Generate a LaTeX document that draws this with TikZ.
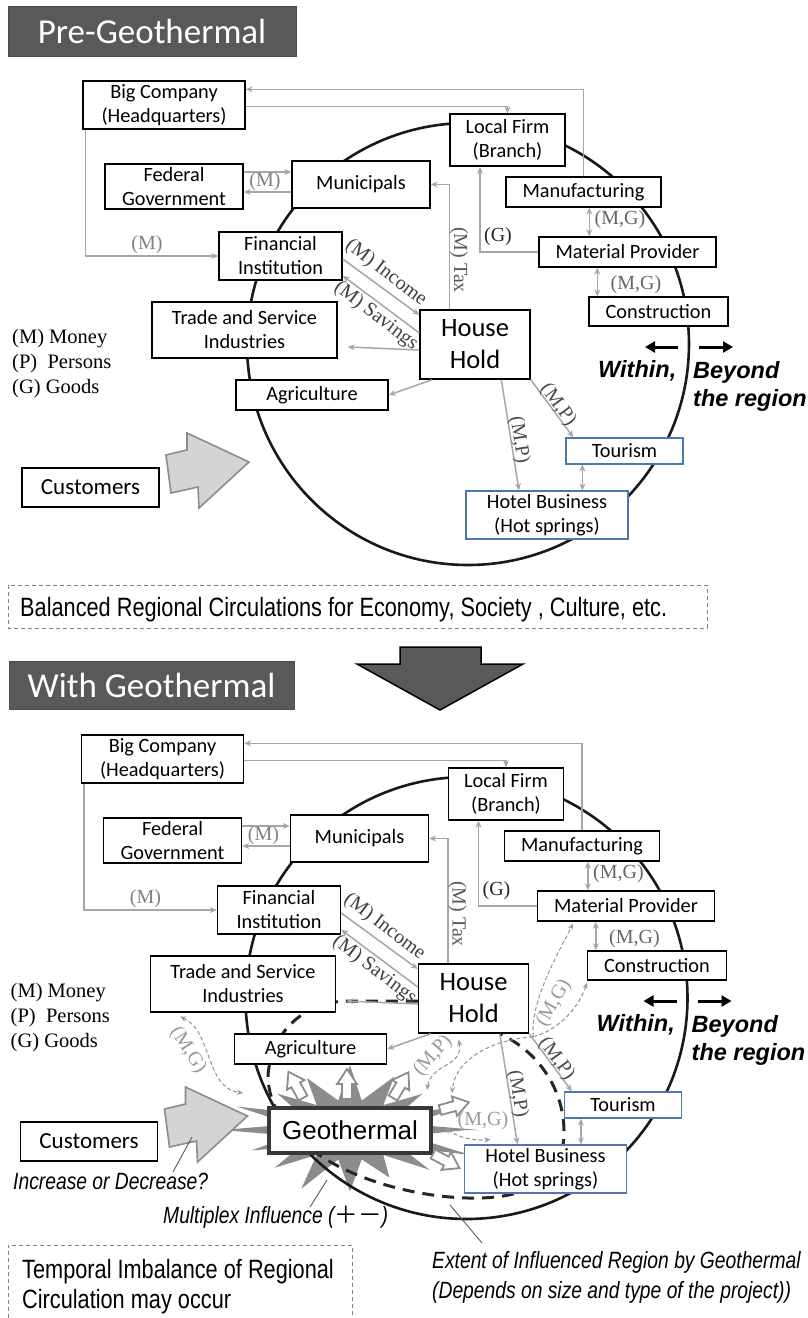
\documentclass[tikz,border=0pt]{standalone}
\usepackage{fontspec}
\usetikzlibrary{arrows.meta}
\newfontfamily\calfont{Carlito}
\newfontfamily\timesfont{Liberation Serif}
\newfontfamily\arialfont{Liberation Sans}
\newfontfamily\narrowfont{Liberation Sans}[FakeStretch=0.82]
\newfontfamily\cjkfont{Noto Sans CJK JP}
\definecolor{lgray}{HTML}{A6A6A6}
\definecolor{titlegray}{HTML}{595959}
\definecolor{boxblue}{HTML}{4A78B0}
\pgfdeclarelayer{bgstar}
\pgfdeclarelayer{bgcircle}
\pgfdeclarelayer{bgdash}
\pgfsetlayers{bgstar,bgcircle,bgdash,main}
\tikzset{
  box/.style={draw=black, line width=1.4pt, fill=white, inner sep=0pt, align=center, font=\calfont\fontsize{20.3}{24}\selectfont},
  bbox/.style={box, draw=boxblue, line width=1.2pt},
  garrow/.style={draw=lgray, line width=1.5pt, -{Stealth[length=7pt,width=6pt]}},
  gdarrow/.style={draw=lgray, line width=1.5pt, {Stealth[length=7pt,width=6pt]}-{Stealth[length=7pt,width=6pt]}},
  lab/.style={font=\timesfont\fontsize{20}{22}\selectfont, inner sep=0pt},
  legtext/.style={anchor=base west, inner sep=0pt, font=\timesfont\fontsize{20.5}{25}\selectfont},
  bigit/.style={anchor=base west, inner sep=0pt, font=\arialfont\bfseries\itshape\fontsize{23.5}{28}\selectfont},
  blackarrow/.style={line width=3pt, -{Triangle[length=10pt,width=11pt]}},
  narrowtext/.style={anchor=base west, inner sep=0pt, font=\narrowfont\fontsize{26.5}{30}\selectfont},
  narrowit/.style={anchor=base west, inner sep=0pt, font=\narrowfont\itshape\fontsize{23.5}{28}\selectfont},
  dbox/.style={draw=black!50, line width=1pt, dash pattern=on 4pt off 3pt},
  titlebox/.style={fill=titlegray, draw=black!70, line width=1pt, inner sep=0pt, text=white, font=\calfont\fontsize{35}{40}\selectfont},
  harrow/.style={fill=white, draw=black!45, line width=1.8pt, line join=miter},
  tdash/.style={draw=black!40, line width=1.1pt, dash pattern=on 4pt off 2.5pt},
  tips/.style={{Stealth[length=6pt,width=5pt]}-{Stealth[length=6pt,width=5pt]}},
  tip/.style={-{Stealth[length=6pt,width=5pt]}},
  pointer/.style={draw=black!65, line width=0.9pt},
}
\newcommand\hollowarrow[3]{\filldraw[harrow, shift={(#1,#2)}, rotate=#3] (0,-5) -- (15,-5) -- (15,-10) -- (30,0) -- (15,10) -- (15,5) -- (0,5) -- cycle;}
\newcommand\regiondiagram{%
\begin{pgfonlayer}{bgcircle}
\draw[line width=2.6pt, black!90] (468,344) circle[radius=221];
\end{pgfonlayer}
\node[box, minimum width=162, minimum height=48] (BigCo) at (164,105) {Big Company\\(Headquarters)};
\node[box, minimum width=138, minimum height=45] (Fed) at (174,186.5) {Federal\\Government};
\node[box, minimum width=138, minimum height=47] (Mun) at (361,184.5) {Municipals};
\node[box, minimum width=123, minimum height=48] (Fin) at (280.5,256) {Financial\\Institution};
\node[box, minimum width=185, minimum height=56] (Trade) at (244.5,330) {Trade and Service\\Industries};
\node[box, minimum width=152, minimum height=30] (Agri) at (312,395) {Agriculture};
\node[box, minimum width=137, minimum height=39, font=\calfont\fontsize{23}{26}\selectfont] (Cust) at (90.5,487.5) {Customers};
\node[box, minimum width=110, minimum height=69, font=\calfont\fontsize{26.5}{32}\selectfont] (HH) at (475,344.5) {House\\Hold};
\node[box, minimum width=115, minimum height=52] (LF) at (507.5,140) {Local Firm\\(Branch)};
\node[box, minimum width=155, minimum height=30] (Manu) at (583.5,192) {Manufacturing};
\node[box, minimum width=177, minimum height=30] (Mat) at (627.5,252) {Material Provider};
\node[box, minimum width=139, minimum height=29] (Con) at (658.5,311.5) {Construction};
\node[bbox, minimum width=117, minimum height=26] (Tour) at (624.5,451) {Tourism};
\node[bbox, minimum width=162, minimum height=48] (Hot) at (547,515) {Hotel Business\\(Hot springs)};
% connectors
\draw[garrow] (Manu.north) |- ([yshift=-9pt]BigCo.north east);
\draw[garrow] ([yshift=-26pt]BigCo.north east) -| (LF.north);
\draw[garrow] ([xshift=3pt]BigCo.south west) |- (Fin.west);
\coordinate (f1) at ([yshift=14.5pt]Fed.east);
\coordinate (f2) at ([yshift=-5.5pt]Fed.east);
\draw[garrow] (f1) -- (f1 -| Mun.west);
\draw[garrow] (f2 -| Mun.west) -- (f2);
\draw[garrow] ([yshift=-3pt]Fin.east) -- ([yshift=29.5pt]HH.west);
\draw[garrow] ([yshift=11.5pt]HH.west) -- ([yshift=5pt]Fin.south east);
\draw[garrow] ([xshift=30pt]HH.north west) |- (Mun.east);
\draw[garrow] ([yshift=-5.5pt]HH.west) -- ([xshift=10pt,yshift=-17pt]Trade.east);
\draw[garrow] ([xshift=13pt]HH.south west) -- (Agri.east);
\draw[garrow] ([xshift=82pt]HH.south west) -- ([xshift=-28pt]Hot.north);
\draw[garrow] (HH.south east) -- ([xshift=8pt]Tour.north west);
\draw[garrow] (Mat.west) -| ([xshift=-27.5pt]LF.south);
\coordinate (mm1) at ([xshift=51pt]Mat.north west);
\draw[gdarrow] (mm1) -- (mm1 |- Manu.south);
\coordinate (mm2) at ([xshift=59pt]Mat.south west);
\draw[gdarrow] (mm2) -- (mm2 |- Con.north);
\coordinate (th1) at ([xshift=17pt]Tour.south west);
\draw[gdarrow] (th1) -- (th1 |- Hot.north);
% labels
\node[lab, text=black!50] (lM1) at (265,182) {(M)};
\node[lab, text=black!50] (lM2) at (147,245) {(M)};
\node[lab, text=black!75, rotate=-37] (lInc) at (386,273) {(M) Income};
\node[lab, text=black!75, rotate=-37] (lSav) at (376,316) {(M) Savings};
\node[lab, text=black!65, rotate=-90] (lTax) at (459,260) {(M) Tax};
\node[lab, text=black!85] (lG) at (498,237) {(G)};
\node[lab, text=black!60] (lMG1) at (620,220) {(M,G)};
\node[lab, text=black!60] (lMG2) at (636,285) {(M,G)};
\node[lab, text=black!70, rotate=-81] (lMP1) at (519,440) {(M,P)};
\node[lab, text=black!70, rotate=-54] (lMP2) at (558,405) {(M,P)};
% legend
\node[legtext] (lgM) at (12,343) {(M) Money};
\node[legtext] (lgP) at (12,368) {(P)\ \ Persons};
\node[legtext] (lgG) at (12,393) {(G) Goods};
% within / beyond
\coordinate (wA) at (678,347); \coordinate (wB) at (645,347);
\draw[blackarrow] (wA) -- (wB);
\coordinate (bA) at (699,347); \coordinate (bB) at (733,347);
\draw[blackarrow] (bA) -- (bB);
\node[bigit] (within) at (598,377) {Within,};
\node[bigit] (beyond) at (693,378) {Beyond};
\node[bigit] (region) at (693,406) {the region};
% customers arrow
\filldraw[fill=black!17, draw=black!45, line width=1.6pt, line join=miter] (166,455) -- (187,450) -- (187,433) -- (249,462) -- (199,508) -- (198,487) -- (171,493) -- cycle;
}
\begin{document}
\begin{tikzpicture}[x=1pt,y=-1pt]
\useasboundingbox (0,0) rectangle (807,1318);
\begin{pgfonlayer}{bgstar}
\fill[white] (0,0) rectangle (807,1318);
\end{pgfonlayer}
\node[titlebox, minimum width=288, minimum height=50] (title1) at (152,31) {Pre-Geothermal};
\begin{scope}[name prefix=a-]
\regiondiagram
\end{scope}
\draw[dbox] (8,585) rectangle (707,628);
\node[narrowtext] (bal) at (20,616) {Balanced Regional Circulations for Economy, Society , Culture, etc.};
\filldraw[fill=titlegray, draw=black, line width=1.5pt, line join=miter] (400,647) -- (481,647) -- (481,664) -- (523,664) -- (440,710) -- (357,664) -- (400,664) -- cycle;
\node[titlebox, minimum width=285, minimum height=48] (title2) at (151.5,685) {With Geothermal};
\begin{scope}[shift={(-1.5,654)}, name prefix=b-]
\regiondiagram
\end{scope}
% star
\begin{pgfonlayer}{bgstar}
\begin{scope}[shift={(350,1130)}, xscale=2]
\fill[black!45] (0:58) \foreach \i in {0,...,15} { -- ({\i*22.5+11.25}:30) -- ({(\i+1)*22.5}:{58+7*sin((\i+1)*97)}) } -- cycle;
\end{scope}
\end{pgfonlayer}
% influenced region
\begin{pgfonlayer}{bgdash}
\draw[line width=3pt, black!85, dash pattern=on 12pt off 8pt] ([yshift=-2.5pt]b-HH.west) -- (345,1001) .. controls (305,1003) and (272,1030) .. (268,1075) .. controls (268,1140) and (350,1185) .. (440,1196) .. controls (520,1205) and (565,1185) .. (564,1130) .. controls (563,1085) and (535,1050) .. ([xshift=82pt]b-HH.south west);
\end{pgfonlayer}
\node[draw=black!78, line width=3.5pt, fill=white, minimum width=162, minimum height=45, inner sep=0pt, font=\arialfont\fontsize{26}{30}\selectfont] (geo) at (350,1130.5) {Geothermal};
\hollowarrow{303}{1098}{119}
\hollowarrow{347}{1099}{90}
\hollowarrow{393}{1098}{59}
\hollowarrow{440}{1110}{15}
\hollowarrow{433}{1154}{-28}
% thin dashed flows
\coordinate (mgA) at (243,1093);
\draw[tdash, tips] ([xshift=-63pt,yshift=-4pt]b-Trade.south) .. controls (212,1030) and (205,1088) .. (mgA);
\node[lab, text=black!40, rotate=-57] (lmgA) at (188,1050) {(M,G)};
\coordinate (mpB) at (427,1090);
\draw[tdash, tips] ([xshift=41pt,yshift=-6pt]b-HH.south west) .. controls (463,1068) and (432,1062) .. (mpB);
\node[lab, text=black!40, rotate=48] (lmpB) at (433,1056) {(M,P)};
\coordinate (hub) at ([xshift=4pt,yshift=-3pt]b-HH.south east);
\coordinate (geoUR) at (452,1093);
\draw[tdash, tip] (hub) .. controls (490,1040) and (455,1060) .. (geoUR);
\draw[tdash, tip] (hub) .. controls (530,1000) and (560,950) .. ([xshift=-53pt,yshift=-2pt]b-Mat.south);
\draw[tdash, tip] (hub) .. controls (560,1030) and (580,1005) .. ([yshift=-2pt]b-Con.south west);
\node[lab, text=black!40, rotate=60] (lmgC) at (554,1003) {(M,G)};
\draw[tdash, tips] ([xshift=12pt,yshift=2pt]geo.east) .. controls (460,1138) and (475,1141) .. ([xshift=-55pt,yshift=5pt]b-Hot.north);
\node[lab, text=black!40] (lmgD) at (483,1121) {(M,G)};
% pointers and notes
\coordinate (incA) at (173,1172); \coordinate (incB) at (192,1137);
\draw[pointer] (incA) -- (incB);
\coordinate (mulA) at (310,1207); \coordinate (mulB) at (327,1180);
\draw[pointer] (mulA) -- (mulB);
\coordinate (extA) at (482,1243); \coordinate (extB) at (450,1205);
\draw[pointer] (extA) -- (extB);
\node[narrowit] (inc) at (13,1189) {Increase or Decrease?};
\node[narrowit] (mult) at (163,1223) {Multiplex Influence ({\cjkfont ＋－})};
\node[narrowit] (ext1) at (432,1268) {Extent of Influenced Region by Geothermal};
\node[narrowit] (ext2) at (432,1298) {(Depends on size and type of the project))};
\draw[dbox] (8,1318) -- (8,1245) -- (352,1245) -- (352,1318);
\node[narrowtext] (tmp1) at (22,1278) {Temporal Imbalance of Regional};
\node[narrowtext] (tmp2) at (22,1308) {Circulation may occur};
\end{tikzpicture}
\end{document}
